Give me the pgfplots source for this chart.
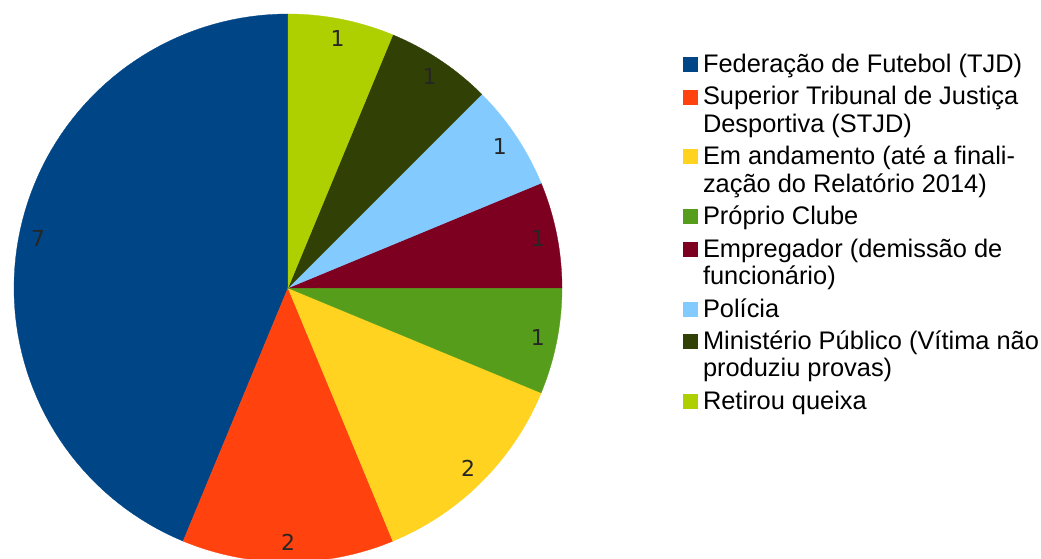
\documentclass[border=0pt]{standalone}
\usepackage{pgfplots}
\usepackage{pgfplotstable}
\usepackage{fontspec}
\pgfplotsset{compat=1.18}
\setmainfont{Liberation Sans}
\newfontfamily\legfont{Liberation Sans}
\newfontfamily\labfont{DejaVu Sans}

% LibreOffice default chart palette
\definecolor{c1}{HTML}{004586}
\definecolor{c2}{HTML}{FF420E}
\definecolor{c3}{HTML}{FFD320}
\definecolor{c4}{HTML}{579D1C}
\definecolor{c5}{HTML}{7E0021}
\definecolor{c6}{HTML}{83CAFF}
\definecolor{c7}{HTML}{314004}
\definecolor{c8}{HTML}{AECF00}

% one row per slice, counterclockwise from the top
% lines = number of lines of its legend entry
\pgfplotstableread[col sep=comma]{
value,color,lines
7,c1,1
2,c2,2
2,c3,2
1,c4,1
1,c5,2
1,c6,1
1,c7,2
1,c8,1
}\piedata

\def\cx{288}
\def\cy{271}
\def\R{274}
% first line of a legend entry (extra room above) and continuation line
\newcommand\F[1]{\rule[-9bp]{0pt}{36bp}#1}
\newcommand\C[1]{\rule[-9bp]{0pt}{31bp}#1}

\begin{document}
\begin{tikzpicture}
\begin{axis}[
    width=1041bp, height=559bp, scale only axis,
    xmin=0, xmax=1041, ymin=0, ymax=559,
    hide axis,
    legend style={draw=none, fill=none, inner sep=0pt,
        at={(0.6561,0.9231)}, anchor=north west,
        font=\legfont\fontsize{25.5}{31}\selectfont,
        row sep=0pt, column sep=3.5bp,
        cells={anchor=base west}},
    legend image code/.code={\fill[#1] (0bp,1bp) rectangle (14bp,15bp);},
]
\pgfplotstablegetrowsof{\piedata}
\pgfmathtruncatemacro\nrows{\pgfplotsretval-1}
\def\total{0}
\pgfplotsforeachungrouped \i in {0,...,\nrows}{%
  \pgfplotstablegetelem{\i}{value}\of\piedata
  \pgfmathsetmacro\total{\total+\pgfplotsretval}%
}
\def\cum{0}
\pgfplotsforeachungrouped \i in {0,...,\nrows}{%
  \pgfplotstablegetelem{\i}{value}\of\piedata \let\val\pgfplotsretval
  \pgfplotstablegetelem{\i}{color}\of\piedata \let\col\pgfplotsretval
  \pgfplotstablegetelem{\i}{lines}\of\piedata \let\nl\pgfplotsretval
  \pgfmathsetmacro\aS{90+360*\cum/\total}%
  \pgfmathsetmacro\aE{90+360*(\cum+\val)/\total}%
  \pgfmathsetmacro\lx{\cx+0.93*\R*cos((\aS+\aE)/2)}%
  \pgfmathsetmacro\ly{\cy+0.93*\R*sin((\aS+\aE)/2)}%
  \edef\temp{\noexpand\addplot[fill=\col, draw=\col, line width=0.3bp,
      domain=\aS:\aE, samples=80]
      ({\cx+\R*cos(x)},{\cy+\R*sin(x)}) -- (axis cs:\cx,\cy) -- cycle;
    \noexpand\node[font=\noexpand\labfont\noexpand\fontsize{22}{26}\noexpand\selectfont,
      text=black!85] at (axis cs:\lx,\ly) {\val};}%
  \temp
  \ifnum\nl>1 \addlegendimage{empty legend}\fi
  \pgfmathsetmacro\cum{\cum+\val}%
}
\legend{
  \F{Federação de Futebol (TJD)},
  \F{Superior Tribunal de Justiça}, \C{Desportiva (STJD)},
  \F{Em andamento (até a finali-}, \C{zação do Relatório 2014)},
  \F{Próprio Clube},
  \F{Empregador (demissão de}, \C{funcionário)},
  \F{Polícia},
  \F{Ministério Público (Vítima não}, \C{produziu provas)},
  \F{Retirou queixa}}
\end{axis}
\pgfresetboundingbox
\path (current axis.south west) rectangle (current axis.north east);
\end{tikzpicture}
\end{document}
